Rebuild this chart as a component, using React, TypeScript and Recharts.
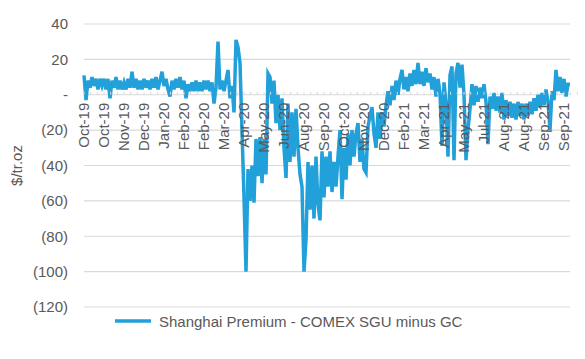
import React from 'react';
import { LineChart, Line, XAxis, YAxis, CartesianGrid, Legend } from 'recharts';

const VALUES: number[] = [
  11, -3, 8, 4, 10, 5, 9, 3, 9, 5,
  9, 3, 9, -2, 8, 4, 10, 3, 8, 3,
  7, 3, 9, 4, 13, 4, 9, 3, 8, 3,
  9, 4, 8, 3, 9, 4, 10, 3, 8, 13,
  5, 9, 3, -1, 8, 3, 9, 4, 10, 3,
  8, -2, 6, 2, 7, 2, 8, 2, 7, 2,
  8, 3, 8, 2, 7, -5, 4, 30, 3, 8,
  2, 8, 14, -2, 5, -10, 31, 27, 18, -20,
  -58, -100, -42, -60, -40, -61, -25, -46, -24, -50,
  -25, -45, 12, 10, -5, 8, -16, 0, -20, -2,
  -30, -47, -5, -38, -10, -35, -8, -30, -45, -52,
  -100, -82, -38, -65, -40, -70, -35, -62, -71, -32,
  -58, -35, -52, -32, -55, -38, -52, -35, -20, -59,
  -30, -48, -22, -40, -20, -35, -22, -16, -38, -25,
  -42, -44, -18, -12, -7, -22, -30, -10, -25, -10,
  -18, -6, 2, -6, 5, -3, 8, 0, 9, 14,
  3, 10, 2, 12, 5, 14, 6, 18, 6, 13,
  5, 15, 7, 12, 3, 10, -1, 9, 1, -29,
  7, -5, -35, 11, 16, -37, 12, 18, 4, 17,
  0, -37, -20, -8, 6, -6, 5, -4, 4, -2,
  6, -4, -28, -1, -8, 1, -9, -1, -10, 1,
  -14, -3, -12, -4, -13, -5, -14, -4, -12, -5,
  -14, -5, -12, -4, -11, -2, -9, 0, -7, 1,
  -6, 3, -4, -20, 2, -3, 14, 2, 10, 1,
  9, -1, 6, 6,
];

const TICK_LABELS: string[] = [
  'Oct-19', 'Oct-19', 'Nov-19', 'Dec-19', 'Jan-20', 'Feb-20', 'Feb-20', 'Mar-20',
  'Apr-20', 'May-20', 'Jun-20', 'Aug-20', 'Sep-20', 'Oct-20', 'Nov-20', 'Dec-20',
  'Feb-21', 'Mar-21', 'Apr-21', 'May-21', 'Jul-21', 'Aug-21', 'Aug-21', 'Sep-21', 'Sep-21',
];

const Y_TICKS: number[] = [-120, -100, -80, -60, -40, -20, 0, 20, 40];
const SERIES_NAME = 'Shanghai Premium - COMEX SGU minus GC';
const Y_LABEL = '$/tr.oz';
const TICK_EVERY = 10;

const data = VALUES.map((v, i) => ({ i, v }));

const W = 585;
const H = 359;
const LEGEND_H = 20;
const X_AXIS_H = 2;
const M = { top: 24, right: 15, bottom: 52 - LEGEND_H - X_AXIS_H, left: 0 };
const Y_AXIS_W = 84;
const PLOT_BOTTOM = H - 52;
const PLOT_H = PLOT_BOTTOM - M.top;
const Y_MIN = -120;
const Y_MAX = 40;
const ZERO_Y = M.top + (PLOT_H * Y_MAX) / (Y_MAX - Y_MIN);
const POINT_STEP = (W - M.right - Y_AXIS_W) / (VALUES.length - 1);
const FONT = '"Liberation Sans", Arial, sans-serif';
const GREY = '#595959';
const GRID = '#d9d9d9';
const BLUE = '#22A0DA';

const fmtY = (v: number) => (v === 0 ? '-' : v < 0 ? `(${-v})` : `${v}`);

function XTick(props: any) {
  const { x, payload } = props;
  const zy = ZERO_Y;
  const idx = Number(payload.value);
  const label = TICK_LABELS[Math.round(idx / TICK_EVERY)] ?? '';
  const minor = [0, 1, 2].map((k) => x + (k * POINT_STEP * TICK_EVERY) / 3);
  return (
    <g>
      {minor.map((mx, k) => (
        <line key={k} x1={mx} x2={mx} y1={zy - 3} y2={zy} stroke={GRID} strokeWidth={1} />
      ))}
      <text
        x={x}
        y={zy + 8}
        dy="0.35em"
        transform={`rotate(-90, ${x}, ${zy + 8})`}
        textAnchor="end"
        fill={GREY}
        fontSize={15}
        fontFamily={FONT}
      >
        {label}
      </text>
    </g>
  );
}

function LegendContent() {
  return (
    <div style={{ display: 'flex', alignItems: 'center', height: LEGEND_H, fontFamily: FONT, fontSize: 15, color: GREY }}>
      <svg width={36} height={6} style={{ marginRight: 8 }}>
        <line x1={0} x2={36} y1={3} y2={3} stroke={BLUE} strokeWidth={3.5} />
      </svg>
      <span style={{ whiteSpace: 'nowrap' }}>{SERIES_NAME}</span>
    </div>
  );
}

export default function App() {
  return (
    <div style={{ position: 'absolute', left: 0, top: 0, width: W, height: H, background: '#fff' }}>
      <LineChart width={W} height={H} data={data} margin={M}>
        <CartesianGrid horizontal vertical={false} stroke={GRID} strokeWidth={1.2} />
        <XAxis
          dataKey="i"
          type="category"
          interval={TICK_EVERY - 1}
          tick={XTick}
          tickLine={false}
          axisLine={false}
          tickSize={0}
          tickMargin={0}
          height={X_AXIS_H}
        />
        <YAxis
          domain={[Y_MIN, Y_MAX]}
          ticks={Y_TICKS}
          tickFormatter={fmtY}
          width={Y_AXIS_W}
          axisLine={false}
          tickLine={false}
          tickSize={0}
          tickMargin={16}
          tick={{ fill: GREY, fontSize: 15, fontFamily: FONT }}
          label={{
            value: Y_LABEL,
            angle: -90,
            position: 'center',
            dx: -25,
            style: { fill: GREY, fontSize: 15, fontFamily: FONT },
          }}
        />
        <Legend
          verticalAlign="bottom"
          content={<LegendContent />}
          wrapperStyle={{ position: 'absolute', left: 115, top: 311, width: 'auto' }}
        />
        <Line
          type="linear"
          dataKey="v"
          name={SERIES_NAME}
          stroke={BLUE}
          strokeWidth={3.5}
          strokeLinejoin="miter"
          dot={false}
          isAnimationActive={false}
        />
      </LineChart>
    </div>
  );
}
